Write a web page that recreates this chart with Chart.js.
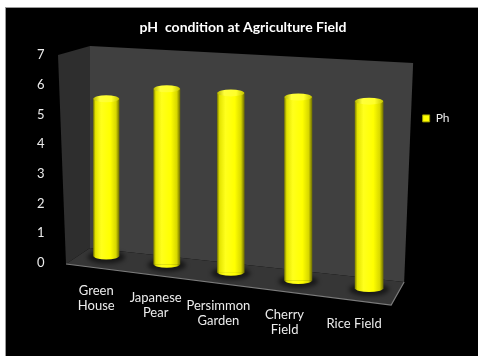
<!DOCTYPE html>
<html>
<head>
<meta charset="utf-8">
<title>pH condition at Agriculture Field</title>
<style>
  body { margin: 0; background: #fff; }
  #chart-box { width: 478px; height: 356px; }
</style>
</head>
<body>
<div id="chart-box"><canvas id="phChart"></canvas></div>
<script src="https://cdn.jsdelivr.net/npm/chart.js@4"></script>
<script>
const chartTitle = 'pH  condition at Agriculture Field';
const categories = [['Green', 'House'], ['Japanese', 'Pear'], ['Persimmon', 'Garden'], ['Cherry', 'Field'], ['Rice Field']];
const seriesName = 'Ph';
const phValues = [5.6, 6.1, 6.1, 6.1, 6.1];
const yTicks = [0, 1, 2, 3, 4, 5, 6, 7];

const FONT = 'Lato, "Open Sans", sans-serif';
const TEXT = '#ececec';

// corners of the 3d box (left wall, floor, back wall) around the plot area
function boxCorners(a) {
    return {
        backTL: [a.left + 16.5, a.top - 9],
        backTR: [a.right + 11.5, a.top + 8],
        backBR: [a.right + 2.5, a.bottom + 19],
        backBL: [a.left + 16.5, a.bottom - 15],
        frontTL: [a.left - 15.5, a.top],
        frontBL: [a.left - 7.5, a.bottom + 1],
        frontBR: [a.right - 10.5, a.bottom + 42]
    };
}

// columns further right stand lower on the floor and look a bit bigger
function perspective(chart, x) {
    const a = chart.chartArea;
    const unit = (a.bottom - a.top) / 7;
    return {
        x: x - 0.0004 * (x - 106) * (366 - x),
        base: a.bottom - 7 + (x - 106) * 0.124,
        s: (28.7 + (x - 166) * 0.01) / unit
    };
}

function sideGradient(ctx, cx, w) {
    const g = ctx.createLinearGradient(cx - w / 2, 0, cx + w / 2, 0);
    g.addColorStop(0, '#8a8a00');
    g.addColorStop(0.08, '#e4e400');
    g.addColorStop(0.3, '#ffff1c');
    g.addColorStop(0.65, '#ffff00');
    g.addColorStop(0.88, '#d8d800');
    g.addColorStop(1, '#767600');
    return g;
}

function lidGradient(ctx, cx, w) {
    const g = ctx.createLinearGradient(cx - w / 2, 0, cx + w / 2, 0);
    g.addColorStop(0, '#b8b800');
    g.addColorStop(0.25, '#ffff3a');
    g.addColorStop(0.7, '#ffff2a');
    g.addColorStop(1, '#c4c400');
    return g;
}

function poly(ctx, pts, fill) {
    ctx.beginPath();
    ctx.moveTo(pts[0][0], pts[0][1]);
    pts.slice(1).forEach(p => ctx.lineTo(p[0], p[1]));
    ctx.closePath();
    ctx.fillStyle = fill;
    ctx.fill();
}

const scenePlugin = {
    id: 'scene',
    beforeDraw(chart) {
        const ctx = chart.ctx;
        ctx.save();
        ctx.fillStyle = '#ffffff';
        ctx.fillRect(0, 0, chart.width, chart.height);
        ctx.fillStyle = '#000000';
        ctx.fillRect(5, 7, chart.width - 5, chart.height - 7);
        ctx.strokeStyle = '#9a9a9a';
        ctx.lineWidth = 1;
        ctx.beginPath();
        ctx.moveTo(5, 7.5);
        ctx.lineTo(chart.width, 7.5);
        ctx.moveTo(5.5, 7);
        ctx.lineTo(5.5, chart.height);
        ctx.stroke();

        ctx.fillStyle = '#ffffff';
        ctx.font = 'bold 14px ' + FONT;
        ctx.textAlign = 'center';
        ctx.textBaseline = 'middle';
        ctx.fillText(chartTitle, 243, 27);
        ctx.restore();
    },
    beforeDatasetsDraw(chart) {
        const ctx = chart.ctx;
        const c = boxCorners(chart.chartArea);
        ctx.save();
        poly(ctx, [c.backTL, c.backTR, c.backBR, c.backBL], '#404040');
        poly(ctx, [c.frontTL, c.backTL, c.backBL, c.frontBL], '#2e2e2e');
        poly(ctx, [c.backBL, c.backBR, c.frontBR, c.frontBL], '#363636');

        // light front edge of the floor
        ctx.strokeStyle = '#7c7c7c';
        ctx.lineWidth = 1.2;
        ctx.beginPath();
        ctx.moveTo(c.frontBL[0], c.frontBL[1]);
        ctx.lineTo(c.frontBR[0], c.frontBR[1]);
        ctx.lineTo(c.backBR[0], c.backBR[1]);
        ctx.stroke();

        // soft shadows under the columns
        ctx.filter = 'blur(2px)';
        ctx.fillStyle = 'rgba(0,0,0,0.55)';
        chart.getDatasetMeta(0).data.forEach(bar => {
            const p = perspective(chart, bar.x);
            ctx.beginPath();
            ctx.ellipse(p.x, p.base + 1, bar.width * p.s / 2 + 6, 6.5, 0, 0, Math.PI * 2);
            ctx.fill();
        });
        ctx.restore();
    },
    beforeDatasetDraw(chart, args) {
        const ctx = chart.ctx;
        const a = chart.chartArea;
        args.meta.data.forEach(bar => {
            const p = perspective(chart, bar.x);
            const w = bar.width * p.s;
            ctx.save();
            ctx.translate(p.x - bar.x * p.s, p.base - a.bottom * p.s);
            ctx.scale(p.s, p.s);
            bar.draw(ctx);
            ctx.restore();

            const top = p.base - (a.bottom - bar.y) * p.s;
            ctx.save();
            ctx.fillStyle = sideGradient(ctx, p.x, w);
            ctx.beginPath();
            ctx.ellipse(p.x, p.base, w / 2, 3.5, 0, 0, Math.PI);
            ctx.fill();
            ctx.fillStyle = lidGradient(ctx, p.x, w);
            ctx.beginPath();
            ctx.ellipse(p.x, top, w / 2, 3.5, 0, 0, Math.PI * 2);
            ctx.fill();
            ctx.restore();
        });
        return false;
    },
    afterDraw(chart) {
        const ctx = chart.ctx;
        const xs = chart.scales.x;
        const c = boxCorners(chart.chartArea);
        const slope = (c.frontBR[1] - c.frontBL[1]) / (c.frontBR[0] - c.frontBL[0]);
        ctx.save();
        ctx.fillStyle = TEXT;
        ctx.font = '13px ' + FONT;
        ctx.textAlign = 'center';
        ctx.textBaseline = 'middle';
        chart.data.labels.forEach((lines, i) => {
            const p = perspective(chart, xs.getPixelForValue(i));
            const lx = p.x - 10 - (p.x - 106) * 0.019;
            const ly = c.frontBL[1] + (p.x - c.frontBL[0]) * slope + 21.5;
            lines.forEach((t, k) => ctx.fillText(t, lx, ly + k * 15));
        });
        ctx.restore();
    }
};

const ctx = document.getElementById('phChart').getContext('2d');
const phChart = new Chart(ctx, {
    type: 'bar',
    data: {
        labels: categories,
        datasets: [{
            label: seriesName,
            data: phValues,
            barThickness: 27,
            borderWidth: 0,
            backgroundColor(c) {
                const xs = c.chart.scales.x;
                if (c.type !== 'data' || !xs) return '#ffff00';
                const cx = xs.getPixelForValue(c.dataIndex);
                if (!isFinite(cx)) return '#ffff00';
                return sideGradient(c.chart.ctx, cx, 27);
            }
        }]
    },
    options: {
        responsive: true,
        maintainAspectRatio: false,
        animation: false,
        events: [],
        layout: { padding: { left: 5, right: 18.5, top: 55, bottom: 93 } },
        scales: {
            x: { display: false },
            y: {
                min: 0,
                max: 7,
                afterFit(scale) { scale.width = 68.5; },
                afterBuildTicks(scale) { scale.ticks = yTicks.map(v => ({ value: v })); },
                grid: { display: false },
                border: { display: false },
                ticks: { color: TEXT, padding: 21, font: { family: FONT, size: 13 } }
            }
        },
        plugins: {
            title: { display: false },
            tooltip: { enabled: false },
            legend: {
                position: 'right',
                align: 'start',
                title: { display: true, text: '', padding: { top: 22, bottom: 0 }, font: { size: 12 } },
                labels: {
                    boxWidth: 7,
                    boxHeight: 7,
                    padding: 21,
                    color: TEXT,
                    font: { family: FONT, size: 12 },
                    generateLabels(chart) {
                        return Chart.defaults.plugins.legend.labels.generateLabels(chart).map(item =>
                            Object.assign(item, { fillStyle: '#ffff00', strokeStyle: '#9a9a00', lineWidth: 1 }));
                    }
                }
            }
        }
    },
    plugins: [scenePlugin]
});
</script>
</body>
</html>
